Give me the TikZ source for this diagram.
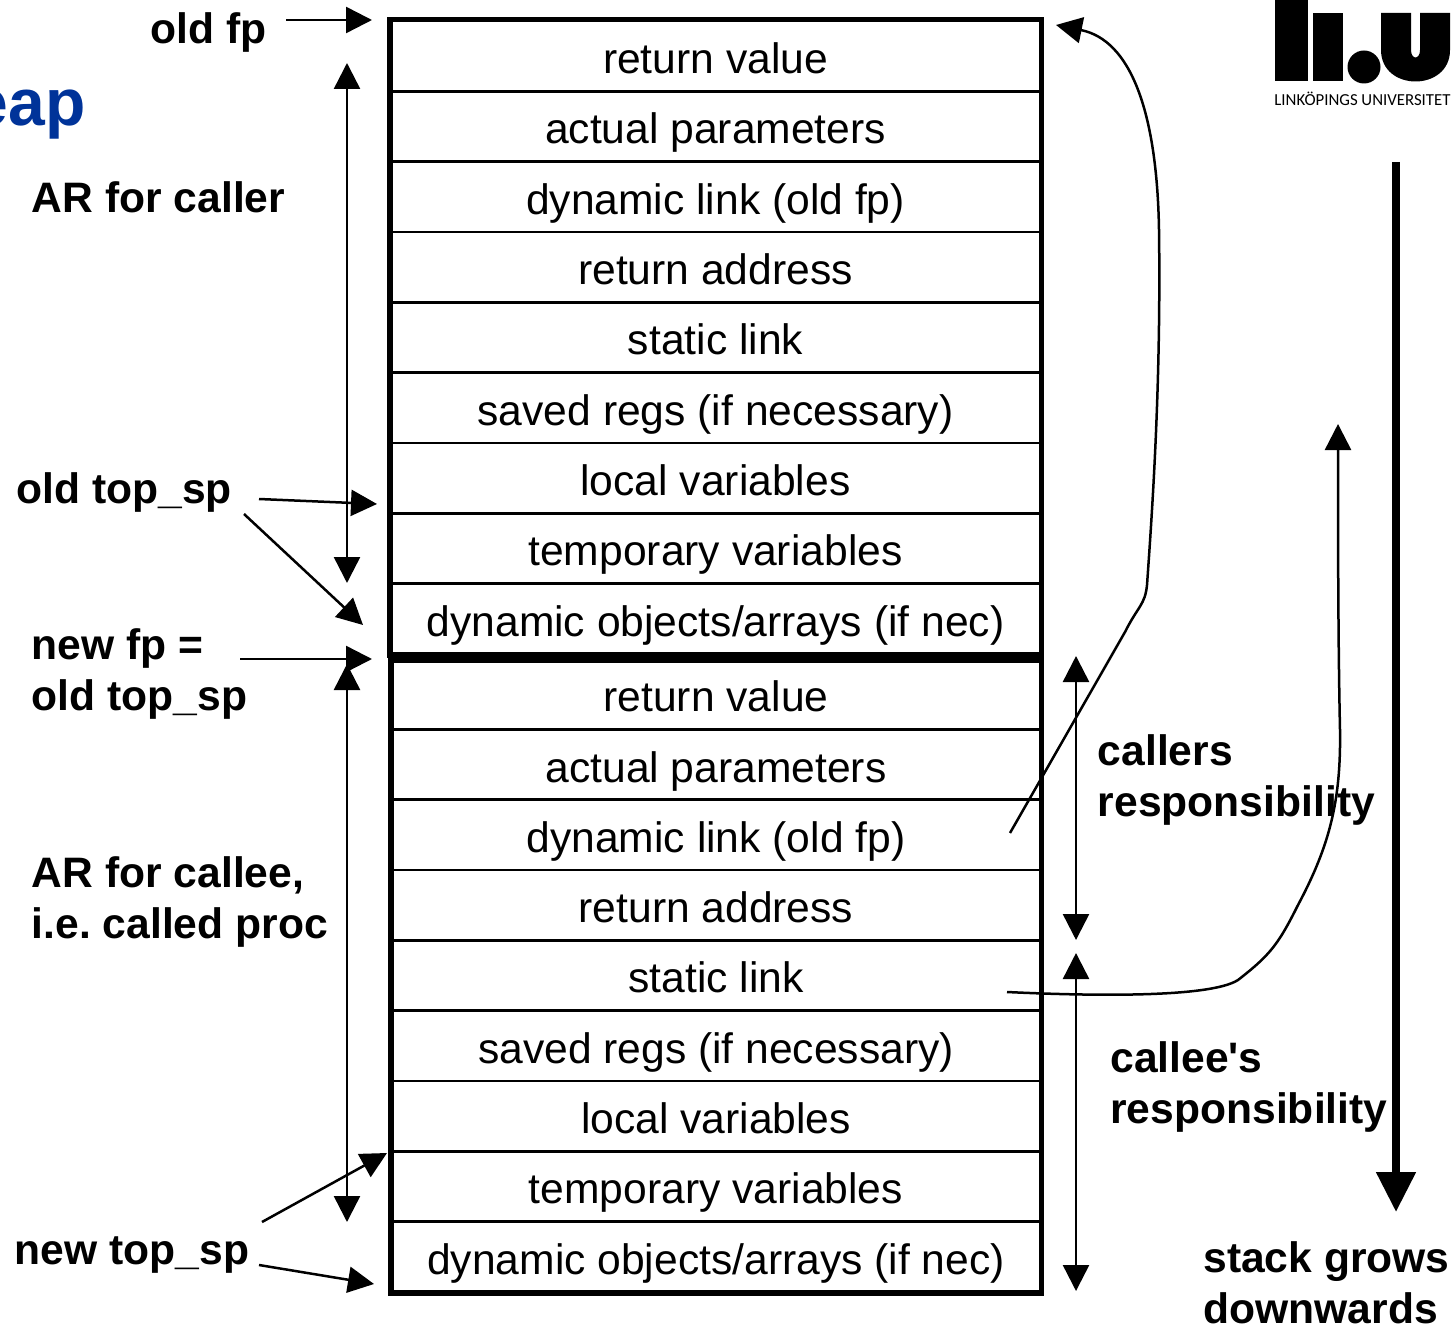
\documentclass[tikz,border=0pt]{standalone}
\usepackage{fontspec}
\setmainfont{Liberation Sans}
\newfontfamily\logofont{Carlito}
\usepackage{xcolor}
\usetikzlibrary{arrows.meta}
\definecolor{heapblue}{RGB}{0, 51, 153}
\tikzset{
    cell/.style={draw, line width=1.25pt, minimum width=324.5pt, minimum height=35.17pt, inner sep=0pt,
        text height=19.5pt, text depth=2pt, font=\fontsize{21.3}{25.5}\selectfont},
    frame/.style={draw, line width=2.75pt},
    tag/.style={inner sep=0pt, align=left, font=\fontsize{21.3}{25.5}\selectfont\bfseries\frenchspacing},
    pointer/.style={line width=1.25pt, -{Triangle[length=13pt,width=13pt]}},
    span/.style={line width=1.25pt, {Triangle[length=13pt,width=13pt]}-{Triangle[length=13pt,width=13pt]}},
}
\begin{document}
\begin{tikzpicture}[x=0.5pt, y=-0.5pt]
    \useasboundingbox (0,0) rectangle (1455,1326);

    % Caller record
    \foreach \txt [count=\i] in {return value, actual parameters, dynamic link (old fp), return address, static link, saved regs (if necessary), local variables, temporary variables, dynamic objects/arrays (if nec)}
        \node[cell] (caller\i) at (715.5,{21+70.33*(\i-0.5)}) {\txt};
    % Callee record
    \foreach \txt [count=\i] in {return value, actual parameters, dynamic link (old fp), return address, static link, saved regs (if necessary), local variables, temporary variables, dynamic objects/arrays (if nec)}
        \node[cell, minimum width=324pt] (callee\i) at (716,{659+70.33*(\i-0.5)}) {\txt};
    \draw[frame] (caller1.north west) rectangle (caller9.south east);
    \draw[frame] (callee1.north west) rectangle (callee9.south east);
    \draw[line width=5pt] (caller9.south west) ++(0,3) -- ++(649,0);

    % Labels
    \node[tag, anchor=base west] (oldfp) at (150,44) {old fp};
    \node[tag, anchor=base east, text=heapblue, font=\fontsize{33}{33}\selectfont\bfseries] (heap) at (86,126) {eap};
    \node[tag, anchor=base west] (arcaller) at (31.5,213) {AR for caller};
    \node[tag, anchor=base west] (oldtop) at (16,503) {old top\_sp};
    \node[tag, anchor=north west] (newfp) at (31.5,628) {new fp =\\old top\_sp};
    \node[tag, anchor=north west] (arcallee) at (31.5,856) {AR for callee,\\i.e. called proc};
    \node[tag, anchor=base west] (newtop) at (14.5,1264) {new top\_sp};
    \node[tag, anchor=north west] (callers) at (1097.5,734) {callers\\responsibility};
    \node[tag, anchor=north west] (callees) at (1110,1041) {callee\textquotesingle s\\responsibility};
    \node[tag, anchor=north west] (grows) at (1203,1241) {stack grows\\downwards};

    % Logo
    \fill (1275,0) rectangle (1308,81);
    \fill (1313,13) rectangle (1343,81);
    \fill (1364,67) circle (16.5);
    \fill (1381,13) -- (1411,13) -- (1411,50) .. controls (1411,60) and (1420,60) .. (1420,50) -- (1420,13) -- (1450,13) -- (1450,50) .. controls (1450,92) and (1381,92) .. (1381,50) -- cycle;
    \node[inner sep=0pt, anchor=base west, font=\logofont\fontsize{8.4}{8}\selectfont] (liu) at (1274,106) {LINKÖPINGS UNIVERSITET};

    % End points
    \coordinate (oldfpstart) at (286,20);
    \coordinate (oldfptip) at (372,20);
    \coordinate (oldtopstart) at (259,499);
    \coordinate (oldtoptip) at (377,504);
    \coordinate (oldtopbstart) at (244,514);
    \coordinate (oldtopbtip) at (363,625);
    \coordinate (newfpstart) at (240,659);
    \coordinate (newfptip) at (372,659);
    \coordinate (newtopstart) at (262,1222);
    \coordinate (newtoptip) at (387,1153);
    \coordinate (newtopbstart) at (259,1265);
    \coordinate (newtopbtip) at (374,1284);
    \coordinate (dynstart) at (1010,833);
    \coordinate (dyntip) at (1056,25);
    \coordinate (statstart) at (1007,992);
    \coordinate (stattip) at (1338,424);

    % Pointers
    \draw[pointer] (oldfpstart) -- (oldfptip);
    \draw[pointer] (oldtopstart) -- (oldtoptip);
    \draw[pointer] (oldtopbstart) -- (oldtopbtip);
    \draw[pointer] (newfpstart) -- (newfptip);
    \draw[pointer] (newtopstart) -- (newtoptip);
    \draw[pointer] (newtopbstart) -- (newtopbtip);

    % Extents
    \draw[span] (347,63) -- (347,583);
    \draw[span] (347,664) -- (347,1222);
    \draw[span] (1076,656) -- (1076,940);
    \draw[span] (1076,953) -- (1076,1291);

    % Links
    \draw[pointer] (dynstart) -- (1125,632) .. controls (1138,606) and (1145,605) .. (1147,585) .. controls (1153,500) and (1161,380) .. (1159,230) .. controls (1157,110) and (1130,40) .. (dyntip);
    \draw[pointer] (statstart) .. controls (1090,996) and (1210,998) .. (1238,980) .. controls (1270,955) and (1278,945) .. (1298,905) .. controls (1330,845) and (1341,800) .. (1340,730) .. controls (1338,640) and (1338,520) .. (stattip);

    % Growth direction
    \draw[line width=4pt, -{Triangle[length=20pt,width=19pt]}] (1396,162) -- (1396,1212);
\end{tikzpicture}
\end{document}
